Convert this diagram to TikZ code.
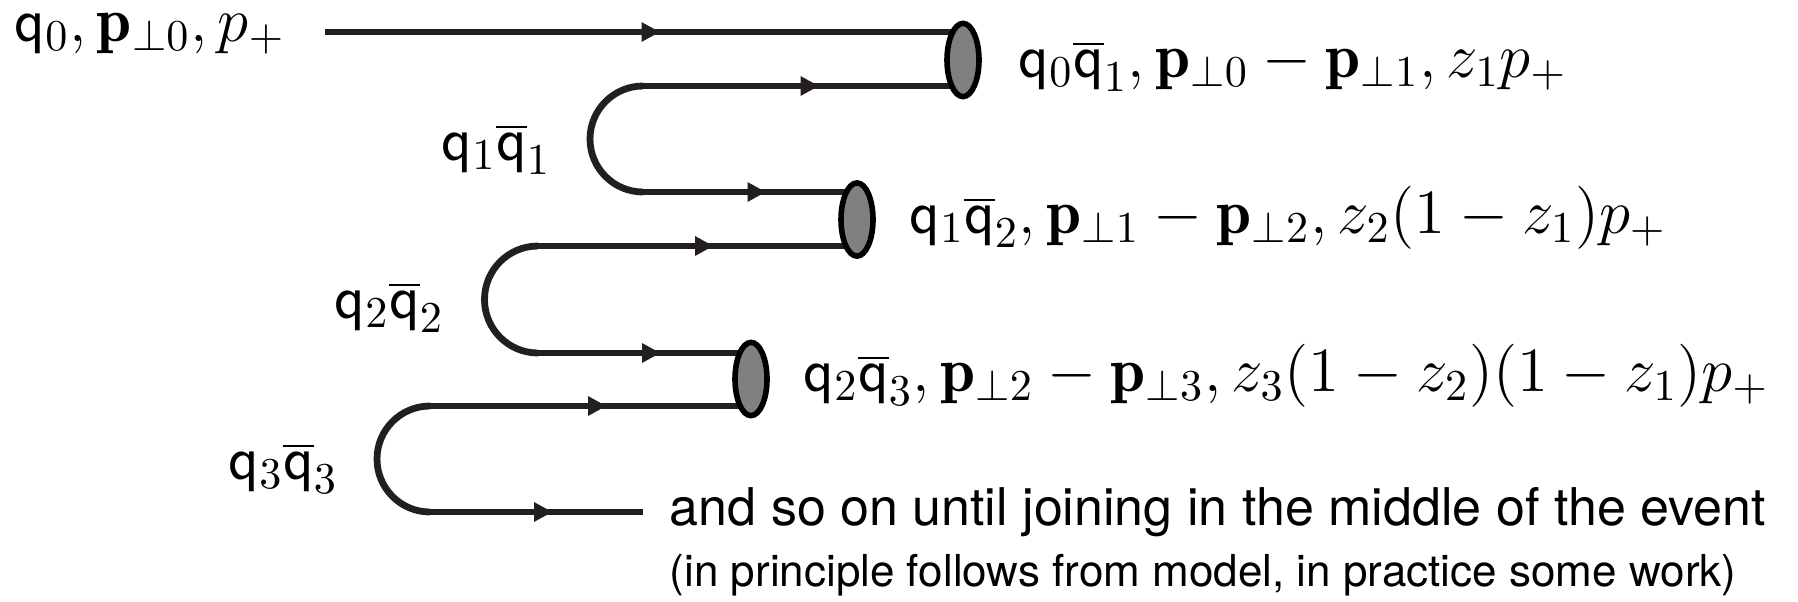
\RequirePackage{fix-cm}
\documentclass[tikz,border=0pt]{standalone}
\usepackage{fontspec}
\newfontfamily\helv{TeX Gyre Heros}
\usetikzlibrary{arrows.meta,decorations.markings,shapes.geometric,backgrounds}

\definecolor{wirecol}{RGB}{35,31,32}
\definecolor{blobfill}{RGB}{128,128,128}

% quark symbols and transverse momentum
\newcommand{\qk}{\mathsf{q}}
\newcommand{\qkb}{\overline{\mathsf{q}}}
\newcommand{\vecp}{\mathbf{p}}

\begin{document}
\begin{tikzpicture}[x=0.25pt,y=-0.25pt,
  wire/.style={draw=wirecol,line width=1.7pt},
  blob/.style={ellipse,draw=black,fill=blobfill,line width=1.4pt,
    minimum width=8pt,minimum height=18.3pt,inner sep=0pt},
  midarrow/.style={postaction={decorate},decoration={markings,
    mark=at position 0.5 with {\arrow[xshift=4pt]{Triangle[length=4.6pt,width=4.6pt]}}}},
  mathlbl/.style={anchor=base west,inner sep=0pt,font=\fontsize{15.75}{18}\selectfont},
  textlbl/.style={anchor=base west,inner sep=0pt,font=\helv\fontsize{13}{15}\selectfont},
  smalllbl/.style={anchor=base west,inner sep=0pt,font=\helv\fontsize{11}{13}\selectfont}]
\useasboundingbox (0,0) rectangle (1798,601);

% string-breaking blobs
\node[blob] (e1) at (963,60) {};
\node[blob] (e2) at (857,219.5) {};
\node[blob] (e3) at (751,379) {};

% ends of the string pieces
\coordinate (s0) at (325,32);
\coordinate (u1t) at (643,86);
\coordinate (u1b) at (643,192);
\coordinate (u2t) at (538,246);
\coordinate (u2b) at (538,353);
\coordinate (u3t) at (430,406);
\coordinate (u3b) at (430,512);
\coordinate (tend) at (643,512);

\begin{scope}[on background layer]
  \draw[wire,midarrow] (s0) -- (s0 -| e1.center);
  \draw[wire,midarrow] (u1t) -- (u1t -| e1.center);
  \draw[wire] (u1t) arc[start angle=90,end angle=270,radius=13.25pt];
  \draw[wire,midarrow] (u1b) -- (u1b -| e2.center);
  \draw[wire,midarrow] (u2t) -- (u2t -| e2.center);
  \draw[wire] (u2t) arc[start angle=90,end angle=270,radius=13.375pt];
  \draw[wire,midarrow] (u2b) -- (u2b -| e3.center);
  \draw[wire,midarrow] (u3t) -- (u3t -| e3.center);
  \draw[wire] (u3t) arc[start angle=90,end angle=270,radius=13.25pt];
  \draw[wire,midarrow] (u3b) -- (tend);
\end{scope}

% labels
\node[mathlbl] (l0) at (14,41) {$\qk_0,\vecp_{\perp0},p_+$};
\node[mathlbl] (l1) at (1018,77) {$\qk_0\qkb_1,\vecp_{\perp0}-\vecp_{\perp1},z_1p_+$};
\node[mathlbl] (l2) at (909,233) {$\qk_1\qkb_2,\vecp_{\perp1}-\vecp_{\perp2},z_2(1-z_1)p_+$};
\node[mathlbl] (l3) at (803,391) {$\qk_2\qkb_3,\vecp_{\perp2}-\vecp_{\perp3},z_3(1-z_2)(1-z_1)p_+$};
\node[mathlbl] (k1) at (441,160) {$\qk_1\qkb_1$};
\node[mathlbl] (k2) at (334,318) {$\qk_2\qkb_2$};
\node[mathlbl] (k3) at (228,479) {$\qk_3\qkb_3$};
\node[textlbl] (t1) at (669,525) {and so on until joining in the middle of the event};
\node[smalllbl] (t2) at (669,586) {(in principle follows from model, in practice some work)};
\end{tikzpicture}
\end{document}
